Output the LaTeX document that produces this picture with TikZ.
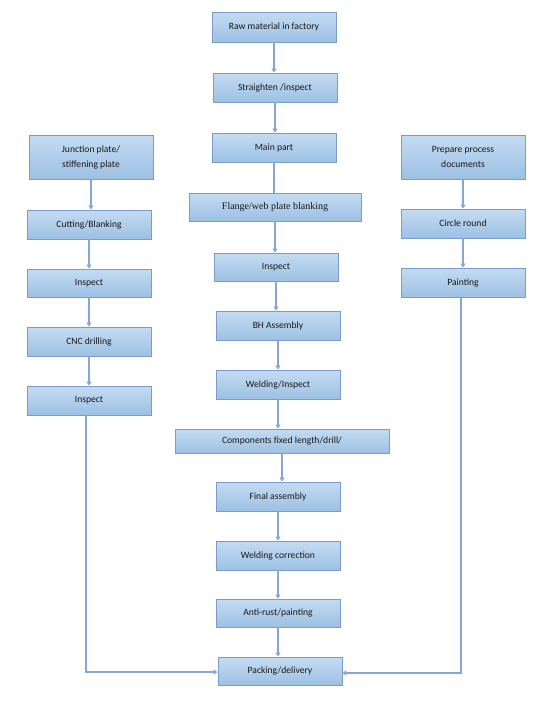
\documentclass[tikz,border=0pt]{standalone}
\usepackage{fontspec}
\setmainfont{Carlito}
\newfontfamily\serifb{Liberation Serif}
\usetikzlibrary{arrows.meta}
\definecolor{boxtop}{HTML}{C4DCF2}
\definecolor{boxbot}{HTML}{9DC0E4}
\definecolor{edge}{HTML}{7A9CC6}
\definecolor{arr}{HTML}{86A8D0}
\tikzset{
  box/.style={draw=edge, line width=0.9pt, top color=boxtop, bottom color=boxbot, inner sep=0pt, font=\fontsize{9.6}{15}\selectfont, align=center, text=black!90},
  flow/.style={draw=arr, line width=1.3pt, -{Triangle[width=5pt,length=4pt]}}
}
\newcommand{\bx}[6]{% name, x1, y1, x2, y2, text
  \node[box, minimum width={(#4-#2)*1pt}, minimum height={(#5-#3)*1pt}] (#1) at ({(#2+#4)/2*1pt},{-(#3+#5)/2*1pt}) {#6};}
\begin{document}
\begin{tikzpicture}
\useasboundingbox (0,0) rectangle (551pt,-705pt);
\fill[white] (0,0) rectangle (551pt,-705pt);
% center column
\bx{raw}{212}{12}{336}{42}{Raw material in factory}
\bx{str}{213}{73}{337}{102}{Straighten /inspect}
\bx{main}{212}{133}{336}{162}{Main part}
\bx{flange}{189}{193}{361}{221}{\serifb\fontsize{10}{12}\selectfont Flange/web plate blanking}
\bx{insp}{214}{253}{338}{281}{Inspect}
\bx{bh}{216}{311}{340}{340}{BH Assembly}
\bx{weld}{216}{370}{340}{399}{Welding/Inspect}
\bx{comp}{175}{429}{389}{453}{Components fixed length/drill/}
\bx{final}{216}{482}{340}{511}{Final assembly}
\bx{wcor}{216}{541}{340}{570}{Welding correction}
\bx{anti}{216}{599}{340}{627}{Anti-rust/painting}
\bx{pack}{218}{657}{342}{685}{Packing/delivery}
% left column
\bx{junc}{29}{135}{153}{179}{Junction plate/\\stiffening plate}
\bx{cut}{27}{210}{151}{239}{Cutting/Blanking}
\bx{linsp}{27}{269}{151}{297}{Inspect}
\bx{cnc}{27}{327}{151}{356}{CNC drilling}
\bx{linsp2}{27}{386}{151}{415}{Inspect}
% right column
\bx{prep}{401}{135}{525}{179}{Prepare process\\documents}
\bx{circ}{401}{209}{525}{238}{Circle round}
\bx{paint}{401}{268}{525}{297}{Painting}
% center arrows
\foreach \a/\b in {raw/str,str/main,flange/insp,insp/bh,bh/weld,weld/comp,comp/final,final/wcor,wcor/anti,anti/pack}
  \draw[flow] (\a.south) -- (\a.south |- \b.north);
\draw[draw=arr, line width=1.3pt] (main.south) -- (main.south |- flange.north);
% left arrows
\foreach \a/\b in {junc/cut,cut/linsp,linsp/cnc,cnc/linsp2}
  \draw[flow] (\a.south) -- (\a.south |- \b.north);
% right arrows
\foreach \a/\b in {prep/circ,circ/paint}
  \draw[flow] (\a.south) -- (\a.south |- \b.north);
% merges
\coordinate (lc) at (86pt,-672pt);
\coordinate (rc) at (461pt,-673pt);
\draw[flow] (linsp2.south -| lc) -- (lc) -- (pack.west |- lc);
\draw[flow] (paint.south -| rc) -- (rc) -- (pack.east |- rc);
\end{tikzpicture}
\end{document}
